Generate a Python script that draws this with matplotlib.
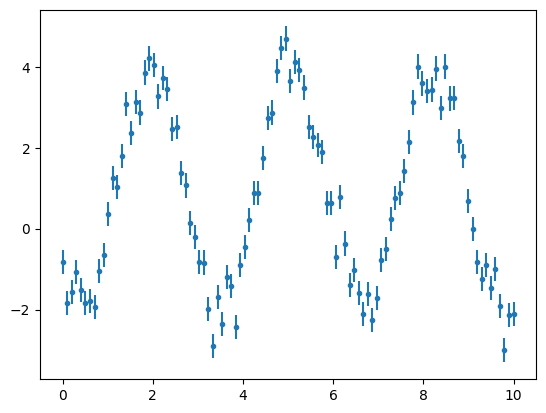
import matplotlib
matplotlib.use("Agg")
import matplotlib.pyplot as plt
import numpy as np

# x positions: 100 evenly spaced points from 0 to 10
x = np.linspace(0, 10, 100)

y = [-0.83, -1.84, -1.57, -1.07, -1.51, -1.84, -1.79, -1.94, -1.05, -0.65,
     0.36, 1.26, 1.03, 1.80, 3.09, 2.37, 3.14, 2.87, 3.86, 4.21,
     4.04, 3.27, 3.72, 3.46, 2.47, 2.52, 1.38, 1.07, 0.14, -0.21,
     -0.83, -0.84, -1.98, -2.90, -1.69, -2.36, -1.20, -1.42, -2.43, -0.90,
     -0.45, 0.22, 0.89, 0.89, 1.75, 2.74, 2.87, 3.89, 4.46, 4.70,
     3.66, 4.13, 3.92, 3.49, 2.52, 2.27, 2.07, 1.90, 0.64, 0.64,
     -0.70, 0.79, -0.37, -1.40, -1.02, -1.60, -2.12, -1.62, -2.26, -1.72,
     -0.78, -0.50, 0.24, 0.76, 0.89, 1.43, 2.15, 3.12, 4.01, 3.59,
     3.40, 3.44, 3.96, 2.99, 4.01, 3.22, 3.24, 2.17, 1.79, 0.69,
     -0.01, -0.83, -1.25, -0.90, -1.47, -1.00, -1.92, -3.01, -2.14, -2.12]

dy = 0.3

fig, ax = plt.subplots(figsize=(6.4, 4.8), dpi=100)
ax.errorbar(x, y, yerr=dy, fmt='.')

fig.savefig("out.png", dpi=100, bbox_inches='tight')
